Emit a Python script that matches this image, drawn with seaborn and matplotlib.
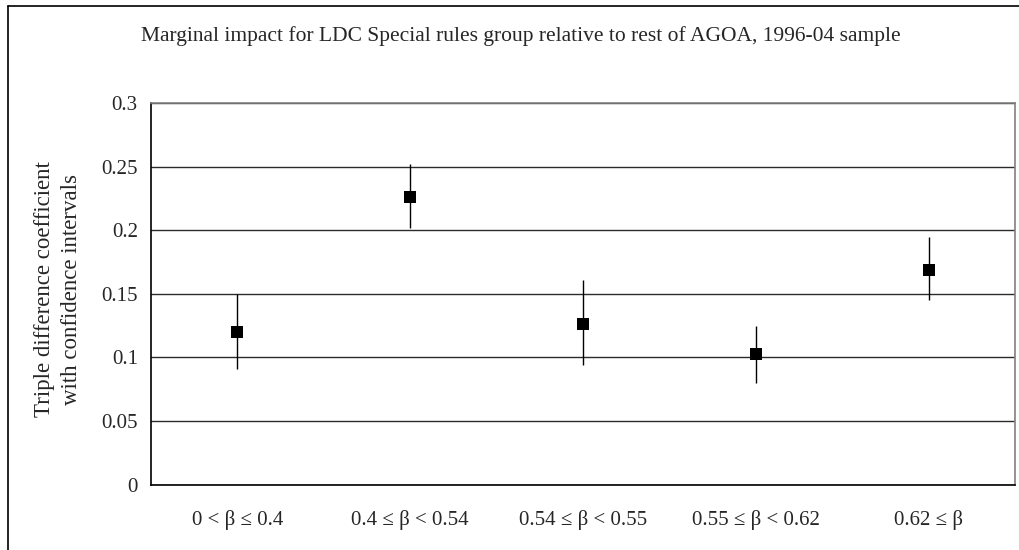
import numpy as np
import pandas as pd
import seaborn as sns
import matplotlib.pyplot as plt
from matplotlib.lines import Line2D

# Datos
categorias = ['0 < β ≤ 0.4', '0.4 ≤ β < 0.54', '0.54 ≤ β < 0.55',
              '0.55 ≤ β < 0.62', '0.62 ≤ β']
coeficiente = [0.120, 0.226, 0.126, 0.103, 0.169]
ic_inferior = [0.091, 0.202, 0.094, 0.080, 0.145]
ic_superior = [0.150, 0.252, 0.161, 0.125, 0.195]
ticks_y = [0, 0.05, 0.1, 0.15, 0.2, 0.25, 0.3]
etiquetas_y = ['0', '0.05', '0.1', '0.15', '0.2', '0.25', '0.3']

titulo = 'Marginal impact for LDC Special rules group relative to rest of AGOA, 1996-04 sample'
eje_y_1 = 'Triple difference coefficient'
eje_y_2 = 'with confidence intervals'

sns.set_style('white')
plt.rcParams['font.family'] = ['Liberation Serif', 'DejaVu Serif']

df = pd.DataFrame({'grupo': categorias, 'coef': coeficiente})

W, H = 1020, 550
fig = plt.figure(figsize=(W / 100, H / 100), dpi=100)
ax = fig.add_axes([151 / W, 1 - 484.5 / H, (1015 - 151) / W, (484.5 - 103) / H])

# Intervalos de confianza
ax.vlines(range(len(categorias)), ic_inferior, ic_superior, color='black', lw=1, zorder=3)
# Coeficientes
sns.scatterplot(data=df, x='grupo', y='coef', marker='s', s=80, color='black',
                linewidth=0, ax=ax, zorder=4, legend=False)

ax.set_xlim(-0.5, len(categorias) - 0.5)
ax.set_ylim(0, 0.3)
ax.set_xlabel('')
ax.set_ylabel('')

# Eje x: marcas en los limites de cada grupo, etiquetas centradas
ax.set_xticks(np.arange(-0.5, len(categorias), 1))
ax.set_xticklabels([])
ax.set_xticks(range(len(categorias)), minor=True)
ax.set_xticklabels(categorias, minor=True, fontsize=15)
ax.tick_params(axis='x', which='major', direction='inout', length=9, width=1, color='black')
ax.tick_params(axis='x', which='minor', length=0, pad=18)

ax.set_yticks(ticks_y)
ax.set_yticklabels(etiquetas_y, fontsize=15)
ax.tick_params(axis='y', direction='inout', length=9, width=1, color='black', pad=5)

ax.yaxis.grid(True, color='#2b2b2b', lw=1)
ax.xaxis.grid(False)
ax.set_axisbelow(True)

for lado in ['left', 'bottom']:
    ax.spines[lado].set_color('black')
    ax.spines[lado].set_linewidth(1.2)
for lado in ['top', 'right']:
    ax.spines[lado].set_color('#808080')
    ax.spines[lado].set_linewidth(1.2)

# Borde exterior del grafico (solo visible arriba e izquierda)
fig.add_artist(Line2D([8 / W, 8 / W], [0, 1 - 6 / H], color='black', lw=1.2))
fig.add_artist(Line2D([8 / W, 1], [1 - 6 / H, 1 - 6 / H], color='black', lw=1.2))

fig.text(520.5 / W, 1 - 36 / H, titulo, ha='center', va='center', fontsize=15.5)
fig.text(45 / W, 1 - 289 / H, eje_y_1, rotation=90, ha='center', va='center', fontsize=16.5)
fig.text(72 / W, 1 - 289 / H, eje_y_2, rotation=90, ha='center', va='center', fontsize=16.5)

fig.savefig('out.png', dpi=100)
